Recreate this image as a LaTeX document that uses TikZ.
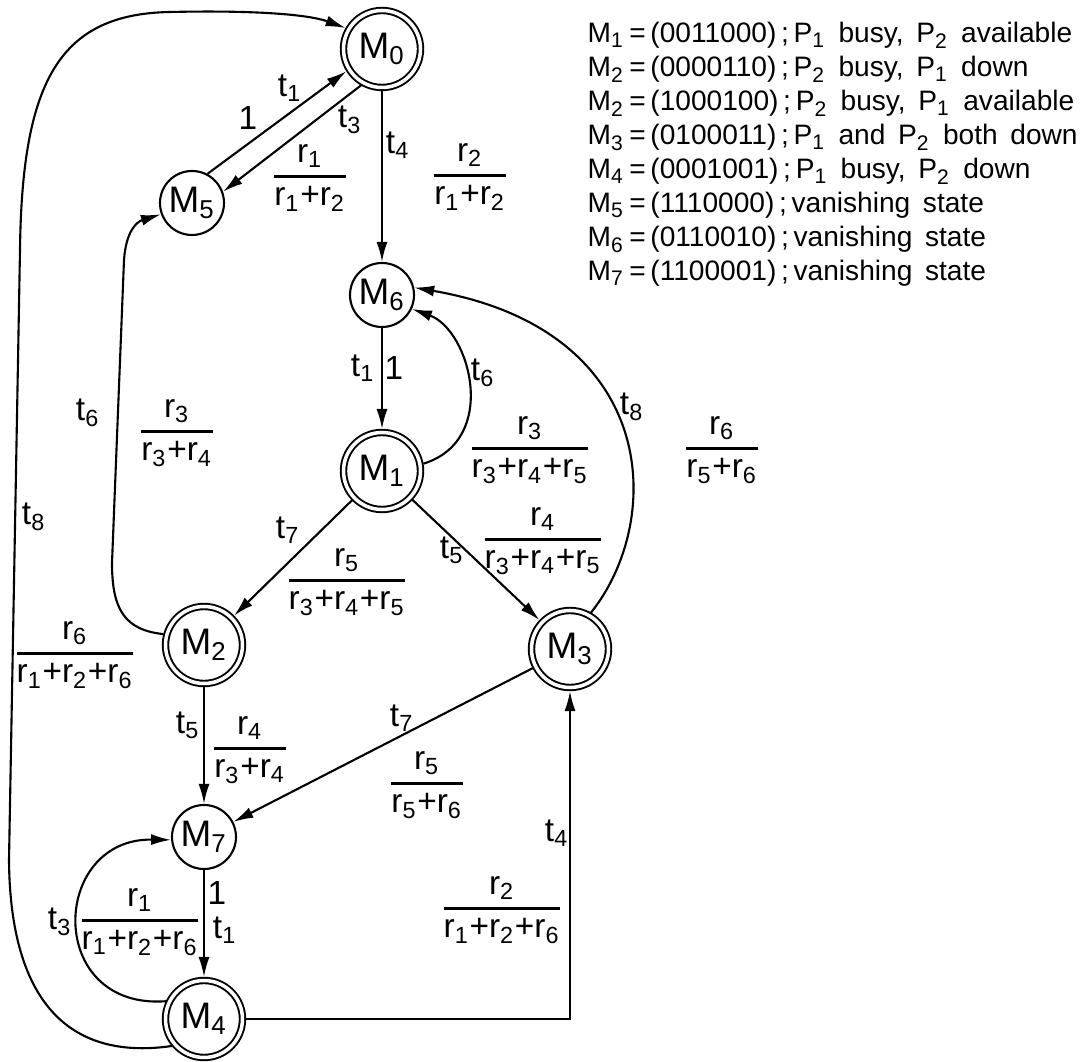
\documentclass[tikz,border=0pt]{standalone}
\usepackage{amsmath}
\usepackage{fontspec}
\setmainfont{Liberation Sans}
\usetikzlibrary{arrows.meta}
\newcommand{\rsub}[1]{r\textsubscript{#1}}
\newcommand{\tsub}[1]{t\textsubscript{#1}}
\newcommand{\rfrac}[2]{$\genfrac{}{}{0.7pt}{0}{\text{#1}}{\text{#2}}$}
\newcommand{\legendfont}{\fontsize{8}{10}\selectfont\spaceskip=0.45em plus 0.1em\relax}

\begin{document}
\begin{tikzpicture}[x=0.1mm,y=-0.1mm,every node/.style={font=\fontsize{9.5}{11}\selectfont},
    state/.style={draw,circle,line width=0.55pt,double,double distance=1pt,outer sep=1pt,minimum size=7.7mm,inner sep=0pt,font=\fontsize{10.5}{12}\selectfont},
    vstate/.style={draw,circle,line width=0.6pt,minimum size=6.4mm,inner sep=0pt,font=\fontsize{10.5}{12}\selectfont},
    arr/.style={-{Latex[length=2mm,width=1.1mm]},line width=0.6pt},
    legend/.style={anchor=base west,inner sep=0pt,font=\legendfont}]
  \useasboundingbox (0,0) rectangle (1087,1062);
  % markings
  \node[state]  (m0) at (382,49)   {M\textsubscript{0}};
  \node[vstate] (m5) at (192,203)  {M\textsubscript{5}};
  \node[vstate] (m6) at (382,295)  {M\textsubscript{6}};
  \node[state]  (m1) at (382,471)  {M\textsubscript{1}};
  \node[state]  (m2) at (204,645)  {M\textsubscript{2}};
  \node[state]  (m3) at (570,649)  {M\textsubscript{3}};
  \node[vstate] (m7) at (204,837)  {M\textsubscript{7}};
  \node[state]  (m4) at (204,1019) {M\textsubscript{4}};
  % transitions
  \draw[arr] (m5.62) -- (m0.212);
  \draw[arr] (m0.240) -- (m5.20);
  \draw[arr] (m0) -- (m6);
  \draw[arr] (m6) -- (m1);
  \draw[arr] (m1.10) .. controls (500,440) and (470,330) .. (m6.-25);
  \draw[arr] (m3.60) .. controls (665,520) and (660,330) .. (m6.13);
  \draw[arr] (m1) -- (m3);
  \draw[arr] (m1) -- (m2);
  \draw[arr] (m2.165) .. controls (125,630) and (112,610) .. (112,563) -- (124,260) .. controls (126,232) and (136,222) .. (m5.200);
  \draw[arr] (m2) -- (m7);
  \draw[arr] (m3) -- (m7);
  \draw[arr] (m7) -- (m4);
  \draw[arr] (m4.155) .. controls (45,1010) and (50,838) .. (m7.185);
  \draw[arr] (m4) -| (m3);
  \draw[arr] (m4.220) .. controls (60,1062) and (10,990) .. (9,860) -- (20,250) .. controls (22,80) and (60,14) .. (170,12) .. controls (260,10) and (310,15) .. (m0.150);
  % labels
  \node (t50) at (290,88)  {\tsub{1}};
  \node (w50) at (248,118) {1};
  \node (t05) at (350,120) {\tsub{3}};
  \node (f05) at (310,178) {\rfrac{\rsub{1}}{\rsub{1}+\rsub{2}}};
  \node (t06) at (398,145) {\tsub{4}};
  \node (f06) at (470,177) {\rfrac{\rsub{2}}{\rsub{1}+\rsub{2}}};
  \node (t61) at (363,368) {\tsub{1}};
  \node (w61) at (394,368) {1};
  \node (t16) at (483,373) {\tsub{6}};
  \node (f16) at (530,450) {\rfrac{\rsub{3}}{\rsub{3}+\rsub{4}+\rsub{5}}};
  \node (t36) at (632,407) {\tsub{8}};
  \node (f36) at (722,450) {\rfrac{\rsub{6}}{\rsub{5}+\rsub{6}}};
  \node (t13) at (452,550) {\tsub{5}};
  \node (f13) at (543,541) {\rfrac{\rsub{4}}{\rsub{3}+\rsub{4}+\rsub{5}}};
  \node (t12) at (288,530) {\tsub{7}};
  \node (f12) at (347,582) {\rfrac{\rsub{5}}{\rsub{3}+\rsub{4}+\rsub{5}}};
  \node (t25) at (88,413)  {\tsub{6}};
  \node (f25) at (177,433) {\rfrac{\rsub{3}}{\rsub{3}+\rsub{4}}};
  \node (t27) at (188,725) {\tsub{5}};
  \node (f27) at (250,750) {\rfrac{\rsub{4}}{\rsub{3}+\rsub{4}}};
  \node (t37) at (402,718) {\tsub{7}};
  \node (f37) at (427,785) {\rfrac{\rsub{5}}{\rsub{5}+\rsub{6}}};
  \node (w74) at (217,893) {1};
  \node (t74) at (225,930) {\tsub{1}};
  \node (t47) at (60,922)  {\tsub{3}};
  \node (f47) at (140,922) {\rfrac{\rsub{1}}{\rsub{1}+\rsub{2}+\rsub{6}}};
  \node (t43) at (557,833) {\tsub{4}};
  \node (f43) at (502,910) {\rfrac{\rsub{2}}{\rsub{1}+\rsub{2}+\rsub{6}}};
  \node (t40) at (34,517)  {\tsub{8}};
  \node (f40) at (75,655)  {\rfrac{\rsub{6}}{\rsub{1}+\rsub{2}+\rsub{6}}};
  % legend
  \node[legend] (leg1) at (587,43)  {M\textsubscript{1}\,=\,(0011000)\,;\,P\textsubscript{1} busy, P\textsubscript{2} available};
  \node[legend] (leg2) at (587,77)  {M\textsubscript{2}\,=\,(0000110)\,;\,P\textsubscript{2} busy, P\textsubscript{1} down};
  \node[legend] (leg3) at (587,111) {M\textsubscript{2}\,=\,(1000100)\,;\,P\textsubscript{2} busy, P\textsubscript{1} available};
  \node[legend] (leg4) at (587,145) {M\textsubscript{3}\,=\,(0100011)\,;\,P\textsubscript{1} and P\textsubscript{2} both down};
  \node[legend] (leg5) at (587,179) {M\textsubscript{4}\,=\,(0001001)\,;\,P\textsubscript{1} busy, P\textsubscript{2} down};
  \node[legend] (leg6) at (587,213) {M\textsubscript{5}\,=\,(1110000)\,;\,vanishing state};
  \node[legend] (leg7) at (587,247) {M\textsubscript{6}\,=\,(0110010)\,;\,vanishing state};
  \node[legend] (leg8) at (587,281) {M\textsubscript{7}\,=\,(1100001)\,;\,vanishing state};
\end{tikzpicture}
\end{document}
